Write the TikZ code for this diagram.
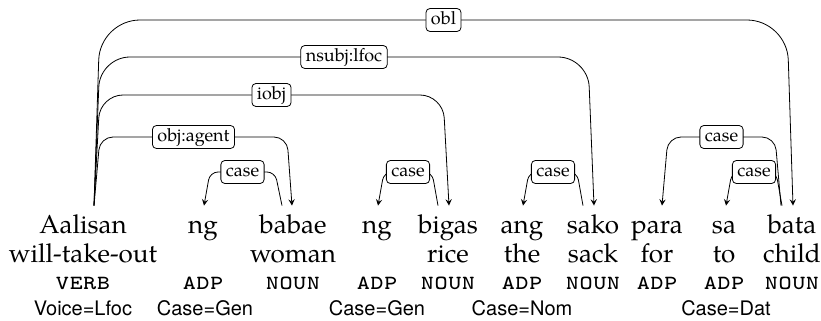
\documentclass[tikz,border=0pt]{standalone}
\usepackage{fontspec}
\setmainfont{TeX Gyre Pagella}
\setsansfont{TeX Gyre Heros}
\usetikzlibrary{arrows,positioning,calc}

\begin{document}
\begin{tikzpicture}[
        x=0.5pt, y=-0.5pt,
        word/.style={anchor=base, inner sep=0pt, text height=13.5pt, text depth=0pt, font=\fontsize{13}{15}\selectfont},
        gloss/.style={anchor=base, inner sep=0pt, font=\fontsize{13}{15}\selectfont},
        tag/.style={anchor=base, inner sep=0pt, font=\fontsize{13}{15}\selectfont\ttfamily\scshape},
        feat/.style={anchor=base, inner sep=0pt, font=\fontsize{10}{12}\selectfont\sffamily},
        lab/.style={draw, fill=white, rounded corners=2pt, inner sep=1.5pt, inner xsep=2.5pt, text height=6.5pt, text depth=2pt, font=\fontsize{9}{10}\selectfont},
        dep/.style={-stealth, line width=0.4pt}
    ]
        \useasboundingbox (0,0) rectangle (821,321);

        % Arc levels
        \coordinate (lev1) at (0,172);
        \coordinate (lev2) at (0,137);
        \coordinate (lev3) at (0,95);
        \coordinate (lev4) at (0,57);
        \coordinate (lev5) at (0,20);

        % Words, glosses and tags
        \foreach \x/\w/\g/\t [count=\i] in {83/Aalisan/will-take-out/verb, 203/ng//adp, 293/babae/woman/noun,
                377/ng//adp, 448/bigas/rice/noun, 522/ang/the/adp, 593/sako/sack/noun,
                657/para/for/adp, 724/sa/to/adp, 792/bata/child/noun} {
            \node[word] (w\i) at (\x,233) {\w};
            \node[gloss] (g\i) at (\x,262) {\g};
            \node[tag] (t\i) at (\x,289) {\t};
        }

        % Features
        \node[feat] (f1) at (83,315) {Voice=Lfoc};
        \node[feat] (f2) at (205,315) {Case=Gen};
        \node[feat] (f4) at (377,315) {Case=Gen};
        \node[feat] (f6) at (522,315) {Case=Nom};
        \node[feat] (f9) at (726,315) {Case=Dat};

        % Arcs from the verb
        \draw[dep, rounded corners=20pt] ([xshift=5.5pt]w1.north) -- ([xshift=8.5pt]w1.north |- lev5)
            -- node[lab] (l1) {obl} ([xshift=-2.5pt]w10.north |- lev5) -- ([xshift=0.5pt]w10.north);
        \draw[dep, rounded corners=15pt] ([xshift=5.5pt]w1.north) -- ([xshift=8.5pt]w1.north |- lev4)
            -- node[lab] (l2) {nsubj:lfoc} ([xshift=-2.5pt]w7.north |- lev4) -- ([xshift=0.5pt]w7.north);
        \draw[dep, rounded corners=11.5pt] ([xshift=5.5pt]w1.north) -- ([xshift=8.5pt]w1.north |- lev3)
            -- node[lab] (l3) {iobj} ([xshift=-2.5pt]w5.north |- lev3) -- ([xshift=0.5pt]w5.north);
        \draw[dep, rounded corners=6.5pt] ([xshift=5.5pt]w1.north) -- ([xshift=8.5pt]w1.north |- lev2)
            -- node[lab] (l4) {obj:agent} ([xshift=-3pt]w3.north |- lev2) -- ([xshift=-0.5pt]w3.north);

        % Case arcs
        \draw[dep, rounded corners=4pt] ([xshift=-5.5pt]w3.north) -- ([xshift=-9pt]w3.north |- lev1)
            -- node[lab] (l5) {case} ([xshift=3.5pt]w2.north |- lev1) -- ([xshift=0.5pt]w2.north);
        \draw[dep, rounded corners=4pt] ([xshift=-5pt]w5.north) -- ([xshift=-8pt]w5.north |- lev1)
            -- node[lab] (l6) {case} ([xshift=3.5pt]w4.north |- lev1) -- ([xshift=0.5pt]w4.north);
        \draw[dep, rounded corners=4pt] ([xshift=-5pt]w7.north) -- ([xshift=-8pt]w7.north |- lev1)
            -- node[lab] (l7) {case} ([xshift=3.5pt]w6.north |- lev1) -- ([xshift=0.5pt]w6.north);
        \draw[dep, rounded corners=6.5pt] ([xshift=-5.5pt]w10.north) -- ([xshift=-8.5pt]w10.north |- lev2)
            -- node[lab] (l8) {case} ([xshift=5.5pt]w8.north |- lev2) -- ([xshift=2.5pt]w8.north);
        \draw[dep, rounded corners=4pt] ([xshift=-5pt]w10.north) -- ([xshift=-8pt]w10.north |- lev1)
            -- node[lab] (l9) {case} ([xshift=4pt]w9.north |- lev1) -- ([xshift=1pt]w9.north);
    \end{tikzpicture}
\end{document}
